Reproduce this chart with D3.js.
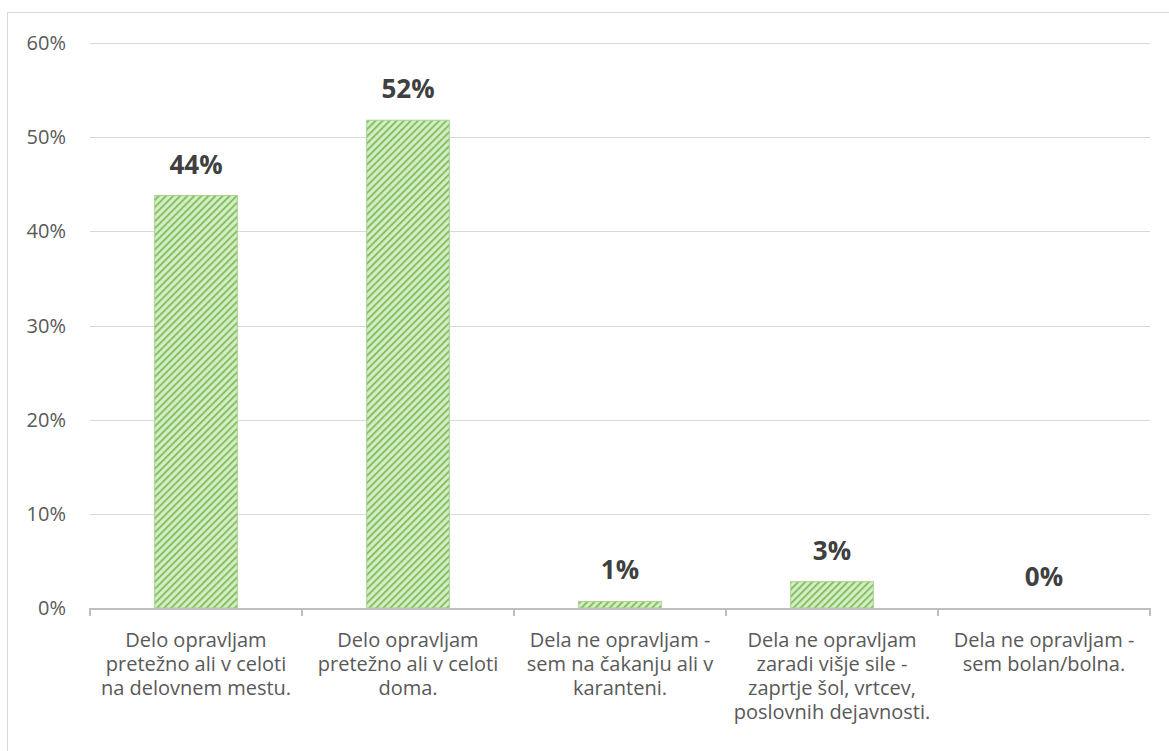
<!DOCTYPE html>
<html lang="sl">
<head>
  <meta charset="utf-8">
  <title>Delo</title>
  <script src="https://cdn.jsdelivr.net/npm/d3@7"></script>
  <style>
    body { margin: 0; background: #fff; }
    text { font-family: "Open Sans", sans-serif; }
  </style>
</head>
<body>
  <script>
    // data
    var categories = [
      ["Delo opravljam", "pretežno ali v celoti", "na delovnem mestu."],
      ["Delo opravljam", "pretežno ali v celoti", "doma."],
      ["Dela ne opravljam -", "sem na čakanju ali v", "karanteni."],
      ["Dela ne opravljam", "zaradi višje sile -", "zaprtje šol, vrtcev,", "poslovnih dejavnosti."],
      ["Dela ne opravljam -", "sem bolan/bolna."]
    ];
    var values = [0.438, 0.518, 0.007, 0.028, 0];
    var valueLabels = ["44%", "52%", "1%", "3%", "0%"];
    var yTicks = [0, 0.1, 0.2, 0.3, 0.4, 0.5, 0.6];

    var width = 1169, height = 751;
    var svg = d3.select("body").append("svg")
      .attr("width", width)
      .attr("height", height);

    // outer frame
    svg.append("rect")
      .attr("x", 7.5).attr("y", 12.5)
      .attr("width", 1170).attr("height", 760)
      .attr("fill", "none").attr("stroke", "#d9d9d9");

    // stripe pattern for bars
    var defs = svg.append("defs");
    var pat = defs.append("pattern")
      .attr("id", "stripes")
      .attr("patternUnits", "userSpaceOnUse")
      .attr("width", 5).attr("height", 5)
      .attr("patternTransform", "rotate(45)");
    pat.append("rect").attr("width", 5).attr("height", 5).attr("fill", "#d5edc6");
    pat.append("rect").attr("width", 1.8).attr("height", 5).attr("fill", "#80bd5a");

    var x = d3.scaleBand()
      .domain(d3.range(categories.length))
      .range([90, 1150])
      .paddingInner(0.61)
      .paddingOuter(0.305);
    var xOuter = d3.scaleBand()
      .domain(d3.range(categories.length))
      .range([90, 1150]);
    var y = d3.scaleLinear().domain([0, 0.6]).range([608, 43]);

    // gridlines
    svg.append("g").selectAll("line")
      .data(yTicks.slice(1))
      .enter().append("line")
      .attr("x1", 90).attr("x2", 1150)
      .attr("y1", function(d) { return Math.round(y(d)) + 0.5; })
      .attr("y2", function(d) { return Math.round(y(d)) + 0.5; })
      .attr("stroke", "#d9d9d9").attr("stroke-width", 1);

    // y labels
    svg.append("g").selectAll("text")
      .data(yTicks)
      .enter().append("text")
      .attr("x", 66)
      .attr("y", function(d) { return y(d); })
      .attr("dy", "0.35em")
      .attr("text-anchor", "end")
      .attr("font-size", 20)
      .attr("fill", "#595959")
      .text(d3.format(".0%"));

    // bars
    svg.append("g").selectAll("rect")
      .data(values)
      .enter().append("rect")
      .attr("x", function(d, i) { return x(i); })
      .attr("y", function(d) { return y(d); })
      .attr("width", x.bandwidth())
      .attr("height", function(d) { return y(0) - y(d); })
      .attr("fill", "url(#stripes)")
      .attr("stroke", "#a9d18e")
      .attr("stroke-width", 1);

    // x axis line and ticks
    var axis = svg.append("g");
    axis.append("line")
      .attr("x1", 90).attr("x2", 1150)
      .attr("y1", 609).attr("y2", 609)
      .attr("stroke", "#bfbfbf").attr("stroke-width", 2);
    axis.selectAll(".tick")
      .data(d3.range(categories.length + 1))
      .enter().append("line")
      .attr("class", "tick")
      .attr("x1", function(i) { return 90 + i * xOuter.step(); })
      .attr("x2", function(i) { return 90 + i * xOuter.step(); })
      .attr("y1", 608).attr("y2", 616)
      .attr("stroke", "#bfbfbf").attr("stroke-width", 2);

    // value labels
    svg.append("g").selectAll("text")
      .data(values)
      .enter().append("text")
      .attr("x", function(d, i) { return x(i) + x.bandwidth() / 2; })
      .attr("y", function(d) { return y(d) - 22; })
      .attr("text-anchor", "middle")
      .attr("font-size", 26)
      .attr("font-weight", "bold")
      .attr("fill", "#404040")
      .text(function(d, i) { return valueLabels[i]; });

    // category labels
    var cat = svg.append("g").selectAll("text")
      .data(categories)
      .enter().append("text")
      .attr("text-anchor", "middle")
      .attr("font-size", 20)
      .attr("fill", "#595959");
    cat.selectAll("tspan")
      .data(function(d, i) { return d.map(function(s) { return { s: s, i: i }; }); })
      .enter().append("tspan")
      .attr("x", function(d) { return xOuter(d.i) + xOuter.bandwidth() / 2; })
      .attr("y", function(d, j) { return 647 + j * 24; })
      .text(function(d) { return d.s; });
  </script>
</body>
</html>
